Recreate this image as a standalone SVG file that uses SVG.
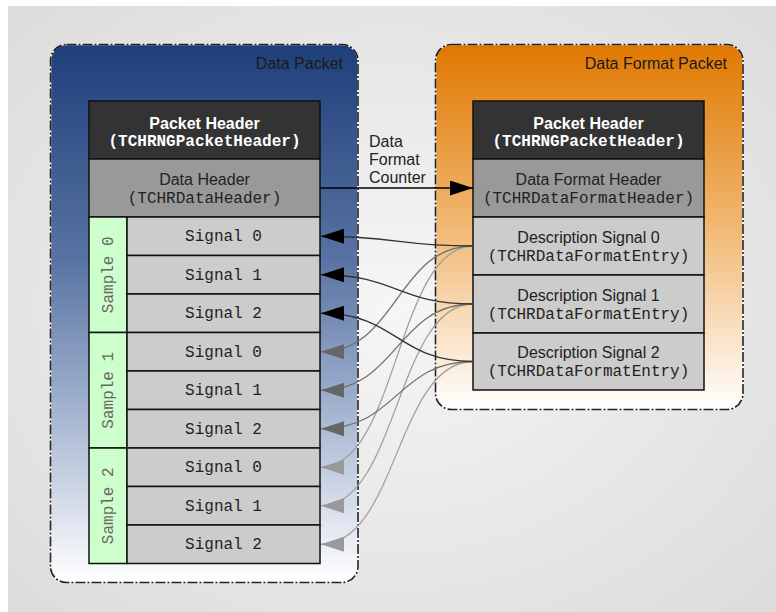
<svg xmlns="http://www.w3.org/2000/svg" width="776" height="612" viewBox="0 0 776 612">
  <defs>
    <radialGradient id="bgGrad" cx="50%" cy="50%" r="70%">
      <stop offset="0" stop-color="#f6f6f6"/>
      <stop offset="1" stop-color="#dcdcdc"/>
    </radialGradient>
    <linearGradient id="blueGrad" x1="0" y1="0" x2="0" y2="1">
      <stop offset="0" stop-color="#1f3f7a"/>
      <stop offset="0.4" stop-color="#5873a3"/>
      <stop offset="0.7" stop-color="#a9b8d3"/>
      <stop offset="1" stop-color="#ffffff"/>
    </linearGradient>
    <linearGradient id="orangeGrad" x1="0" y1="0" x2="0" y2="1">
      <stop offset="0" stop-color="#e07800"/>
      <stop offset="0.5" stop-color="#f1b873"/>
      <stop offset="1" stop-color="#ffffff"/>
    </linearGradient>
    <marker id="arrowBlack" markerUnits="userSpaceOnUse" markerWidth="23" markerHeight="15" viewBox="0 0 23 15" refX="23" refY="7.5" orient="auto">
      <path d="M0,0 L23,7.5 L0,15 z" fill="#000"/>
    </marker>
    <marker id="arrowDark" markerUnits="userSpaceOnUse" markerWidth="23" markerHeight="15" viewBox="0 0 23 15" refX="23" refY="7.5" orient="auto">
      <path d="M0,0 L23,7.5 L0,15 z" fill="#666"/>
    </marker>
    <marker id="arrowLight" markerUnits="userSpaceOnUse" markerWidth="23" markerHeight="15" viewBox="0 0 23 15" refX="23" refY="7.5" orient="auto">
      <path d="M0,0 L23,7.5 L0,15 z" fill="#999"/>
    </marker>
  </defs>
  <style>
    .frameBase { fill: none; stroke: #ffffff; stroke-width: 1.6; }
    .frameLine { fill: none; stroke: #222; stroke-width: 1.6; stroke-dasharray: 10 2 2 2; }
    .cell { stroke: #111; stroke-width: 1.5; }
    .dark { fill: #333333; }
    .mid { fill: #999999; }
    .light { fill: #cccccc; }
    .green { fill: #ccffcc; }
    .sans { font-family: "Liberation Sans", Arial, sans-serif; font-size: 16px; }
    .mono { font-family: "Liberation Mono", "Courier New", monospace; font-size: 16px; }
    .title { fill: #1a1a1a; text-anchor: end; }
    .mid-t { text-anchor: middle; }
    .white { fill: #ffffff; }
    .ink { fill: #222222; }
    .sampleText { fill: #666666; }
    .conn { fill: none; stroke-width: 1.3; }
    .c0 { stroke: #333; marker-end: url(#arrowBlack); }
    .c1 { stroke: #707070; marker-end: url(#arrowDark); }
    .c2 { stroke: #a0a0a0; marker-end: url(#arrowLight); }
  </style>

  <!-- backdrop -->
  <rect x="0" y="0" width="776" height="612" fill="#ffffff"/>
  <rect x="8" y="6" width="768" height="606" fill="url(#bgGrad)"/>

  <!-- Data Packet container -->
  <g id="data-packet">
    <rect x="50.5" y="44.5" width="307.5" height="538" rx="16" fill="url(#blueGrad)"/>
    <rect class="frameBase" x="50.5" y="44.5" width="307.5" height="538" rx="16"/>
    <rect class="frameLine" x="50.5" y="44.5" width="307.5" height="538" rx="16"/>
    <text class="sans title" x="343" y="69">Data Packet</text>
  </g>

  <!-- Data Format Packet container -->
  <g id="data-format-packet">
    <rect x="435.5" y="44.5" width="307.5" height="365" rx="16" fill="url(#orangeGrad)"/>
    <rect class="frameBase" x="435.5" y="44.5" width="307.5" height="365" rx="16"/>
    <rect class="frameLine" x="435.5" y="44.5" width="307.5" height="365" rx="16"/>
    <text class="sans title" x="727" y="69">Data Format Packet</text>
  </g>

  <!-- left table -->
  <g id="packet-header">
    <rect class="cell dark" x="89" y="101" width="231" height="58"/>
    <text class="sans mid-t white" x="204.5" y="129" font-weight="bold">Packet Header</text>
    <text class="mono mid-t white" x="204.5" y="146" font-weight="bold">(TCHRNGPacketHeader)</text>
  </g>
  <g id="data-header">
    <rect class="cell mid" x="89" y="159" width="231" height="58"/>
    <text class="sans mid-t ink" x="204.5" y="185">Data Header</text>
    <text class="mono mid-t ink" x="204.5" y="203">(TCHRDataHeader)</text>
  </g>

  <g id="sample-0">
    <rect class="cell green" x="89" y="217" width="38" height="115.5"/>
    <text class="mono mid-t sampleText" transform="translate(108,274.75) rotate(-90)" y="5">Sample 0</text>
  </g>
  <g id="sample-1">
    <rect class="cell green" x="89" y="332.5" width="38" height="115.5"/>
    <text class="mono mid-t sampleText" transform="translate(108,390.25) rotate(-90)" y="5">Sample 1</text>
  </g>
  <g id="sample-2">
    <rect class="cell green" x="89" y="448" width="38" height="115.5"/>
    <text class="mono mid-t sampleText" transform="translate(108,505.75) rotate(-90)" y="5">Sample 2</text>
  </g>

  <g id="s0-signal-0">
    <rect class="cell light" x="127" y="217" width="193" height="38.5"/>
    <text class="mono mid-t ink" x="223.5" y="241">Signal 0</text>
  </g>
  <g id="s0-signal-1">
    <rect class="cell light" x="127" y="255.5" width="193" height="38.5"/>
    <text class="mono mid-t ink" x="223.5" y="279.5">Signal 1</text>
  </g>
  <g id="s0-signal-2">
    <rect class="cell light" x="127" y="294" width="193" height="38.5"/>
    <text class="mono mid-t ink" x="223.5" y="318">Signal 2</text>
  </g>
  <g id="s1-signal-0">
    <rect class="cell light" x="127" y="332.5" width="193" height="38.5"/>
    <text class="mono mid-t ink" x="223.5" y="356.5">Signal 0</text>
  </g>
  <g id="s1-signal-1">
    <rect class="cell light" x="127" y="371" width="193" height="38.5"/>
    <text class="mono mid-t ink" x="223.5" y="395">Signal 1</text>
  </g>
  <g id="s1-signal-2">
    <rect class="cell light" x="127" y="409.5" width="193" height="38.5"/>
    <text class="mono mid-t ink" x="223.5" y="433.5">Signal 2</text>
  </g>
  <g id="s2-signal-0">
    <rect class="cell light" x="127" y="448" width="193" height="38.5"/>
    <text class="mono mid-t ink" x="223.5" y="472">Signal 0</text>
  </g>
  <g id="s2-signal-1">
    <rect class="cell light" x="127" y="486.5" width="193" height="38.5"/>
    <text class="mono mid-t ink" x="223.5" y="510.5">Signal 1</text>
  </g>
  <g id="s2-signal-2">
    <rect class="cell light" x="127" y="525" width="193" height="38.5"/>
    <text class="mono mid-t ink" x="223.5" y="549">Signal 2</text>
  </g>

  <!-- right table -->
  <g id="format-packet-header">
    <rect class="cell dark" x="473" y="101" width="231" height="58"/>
    <text class="sans mid-t white" x="588.5" y="129" font-weight="bold">Packet Header</text>
    <text class="mono mid-t white" x="588.5" y="146" font-weight="bold">(TCHRNGPacketHeader)</text>
  </g>
  <g id="data-format-header">
    <rect class="cell mid" x="473" y="159" width="231" height="58"/>
    <text class="sans mid-t ink" x="588.5" y="185">Data Format Header</text>
    <text class="mono mid-t ink" x="588.5" y="203">(TCHRDataFormatHeader)</text>
  </g>
  <g id="description-signal-0">
    <rect class="cell light" x="473" y="217" width="231" height="58"/>
    <text class="sans mid-t ink" x="588.5" y="243">Description Signal 0</text>
    <text class="mono mid-t ink" x="588.5" y="261">(TCHRDataFormatEntry)</text>
  </g>
  <g id="description-signal-1">
    <rect class="cell light" x="473" y="275" width="231" height="58"/>
    <text class="sans mid-t ink" x="588.5" y="301">Description Signal 1</text>
    <text class="mono mid-t ink" x="588.5" y="319">(TCHRDataFormatEntry)</text>
  </g>
  <g id="description-signal-2">
    <rect class="cell light" x="473" y="333" width="231" height="57"/>
    <text class="sans mid-t ink" x="588.5" y="358">Description Signal 2</text>
    <text class="mono mid-t ink" x="588.5" y="376">(TCHRDataFormatEntry)</text>
  </g>

  <!-- connectors -->
  <g id="connectors">
    <path class="conn c2" d="M473,246 C397,246 397,467.25 321,467.25"/>
    <path class="conn c2" d="M473,304 C397,304 397,505.75 321,505.75"/>
    <path class="conn c2" d="M473,361.5 C397,361.5 397,544.25 321,544.25"/>
    <path class="conn c1" d="M473,246 C397,246 397,351.75 321,351.75"/>
    <path class="conn c1" d="M473,304 C397,304 397,390.25 321,390.25"/>
    <path class="conn c1" d="M473,361.5 C397,361.5 397,428.75 321,428.75"/>
    <path class="conn c0" d="M473,246 C397,246 397,236.25 321,236.25"/>
    <path class="conn c0" d="M473,304 C397,304 397,274.75 321,274.75"/>
    <path class="conn c0" d="M473,361.5 C397,361.5 397,313.25 321,313.25"/>
    <path fill="none" stroke="#000" stroke-width="1.5" marker-end="url(#arrowBlack)" d="M320,188 L473,188"/>
    <text class="sans ink" x="369" y="147">Data</text>
    <text class="sans ink" x="369" y="165">Format</text>
    <text class="sans ink" x="369" y="183">Counter</text>
  </g>
</svg>
